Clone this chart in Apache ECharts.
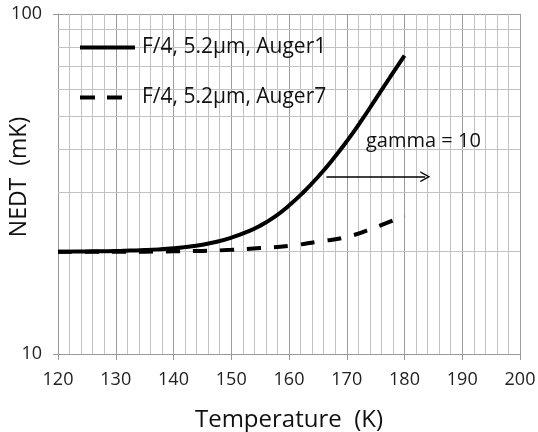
<!DOCTYPE html>
<html>
<head>
<meta charset="utf-8">
<script src="https://cdn.jsdelivr.net/npm/echarts@6/dist/echarts.min.js"></script>
<style>html,body{margin:0;padding:0;background:#fff}#c{width:538px;height:432px}</style>
</head>
<body>
<div id="c"></div>
<script>
var temps1 = [120, 122.5, 125, 127.5, 130, 132.5, 135, 137.5, 140, 142.5, 145, 147.5, 150, 152.5, 155, 157.5, 160, 162.5, 165, 167.5, 170, 172.5, 175, 177.5, 180];
var nedtAuger1 = [20.0, 20.01, 20.03, 20.06, 20.09, 20.15, 20.21, 20.31, 20.46, 20.67, 20.97, 21.39, 21.99, 22.78, 23.84, 25.32, 27.33, 29.91, 33.16, 37.2, 42.22, 48.47, 56.15, 65.17, 75.4];
var temps7 = [120, 125, 130, 135, 140, 145, 150, 155, 160, 165, 170, 175, 180];
var nedtAuger7 = [20.0, 20.0, 20.0, 20.0, 20.05, 20.1, 20.25, 20.5, 20.8, 21.4, 22.1, 23.6, 25.5];
var seriesNames = ['F/4, 5.2µm, Auger1', 'F/4, 5.2µm, Auger7'];
var minorYLines = [20, 30, 40, 50, 60, 70, 80, 90];
var arrowStart = [166.5, 33.2];
var arrowEnd = [183.6, 33.2];
var annotationText = 'gamma = 10';

function pairs(xs, ys) { return xs.map(function (x, i) { return [x, ys[i]]; }); }

var FONT = '"Open Sans", "Noto Sans", sans-serif';
var TXT = '#111';
var hiddenSym = { color: 'rgba(0,0,0,0)', borderColor: 'rgba(0,0,0,0)', borderWidth: 0, opacity: 0 };
var chart = echarts.init(document.getElementById('c'), null, { renderer: 'canvas' });
chart.setOption({
  animation: false,
  backgroundColor: '#ffffff',
  grid: { left: 58, right: 18, top: 14, bottom: 78, containLabel: false, outerBoundsMode: 'none' },
  legend: [
    {
      data: [seriesNames[0]], orient: 'vertical', left: 78, top: 37, padding: 0,
      itemWidth: 55, itemHeight: 20,
      itemStyle: hiddenSym,
      lineStyle: { width: 4, color: '#000', type: 'solid' },
      textStyle: { fontFamily: FONT, fontSize: 21, color: TXT, lineHeight: 20, padding: [0, 0, 0, 2] }
    },
    {
      data: [seriesNames[1]], orient: 'vertical', left: 78, top: 87, padding: 0,
      itemWidth: 55, itemHeight: 20,
      itemStyle: hiddenSym,
      lineStyle: { width: 4, color: '#000', type: [15, 12, 15, 100] },
      textStyle: { fontFamily: FONT, fontSize: 21, color: TXT, lineHeight: 20, padding: [0, 0, 0, 2] }
    }
  ],
  xAxis: {
    type: 'value', min: 120, max: 200, interval: 10,
    name: 'Temperature  (K)', nameLocation: 'middle', nameGap: 54, nameMoveOverlap: false,
    nameTextStyle: { fontFamily: FONT, fontSize: 24, color: TXT },
    axisLine: { show: true, lineStyle: { color: '#999', width: 1 } },
    axisTick: { show: true, length: 6, lineStyle: { color: '#999' } },
    axisLabel: { fontFamily: FONT, fontSize: 18, color: '#222', margin: 17 },
    splitLine: { show: true, lineStyle: { color: '#9c9c9c', width: 1 } },
    minorTick: { show: false, splitNumber: 5 },
    minorSplitLine: { show: true, lineStyle: { color: '#c2c2c2', width: 1 } }
  },
  yAxis: {
    type: 'log', logBase: 10, min: 10, max: 100,
    name: 'NEDT  (mK)', nameLocation: 'middle', nameGap: 27, nameMoveOverlap: false,
    nameTextStyle: { fontFamily: FONT, fontSize: 23, color: TXT, padding: [0, 0, 0, 14] },
    axisLine: { show: true, lineStyle: { color: '#999', width: 1 } },
    axisTick: { show: true, length: 5, lineStyle: { color: '#999' } },
    axisLabel: { fontFamily: FONT, fontSize: 18, color: '#222', margin: 16 },
    splitLine: { show: true, lineStyle: { color: '#9c9c9c', width: 1 } },
    minorSplitLine: { show: false }
  },
  graphic: [
    {
      type: 'text', left: 366, top: 131, z: 10,
      style: { text: annotationText, fontFamily: FONT, fontSize: 20, fill: TXT }
    }
  ],
  series: [
    {
      name: seriesNames[0], type: 'line', data: pairs(temps1, nedtAuger1),
      symbol: 'none', smooth: 0.5, z: 4,
      lineStyle: { color: '#000', width: 4, type: 'solid' },
      markLine: {
        silent: true, z: 6, animation: false,
        symbol: ['none', 'path://M0,10 L5,0 L10,10 L8.6,10 L5,2.6 L1.4,10 Z'],
        symbolSize: [11, 10],
        lineStyle: { color: '#000', width: 1.5, type: 'solid' },
        label: { show: false },
        data: [[{ coord: arrowStart }, { coord: arrowEnd }]]
      }
    },
    {
      name: seriesNames[1], type: 'line', data: pairs(temps7, nedtAuger7),
      symbol: 'none', smooth: 0.5, z: 3,
      lineStyle: { color: '#000', width: 4, type: [14, 13] },
      markLine: {
        silent: true, z: 1, animation: false, symbol: ['none', 'none'],
        lineStyle: { color: '#c2c2c2', width: 1, type: 'solid' },
        label: { show: false },
        data: minorYLines.map(function (v) { return { yAxis: v }; })
      }
    }
  ]
});
</script>
</body>
</html>
